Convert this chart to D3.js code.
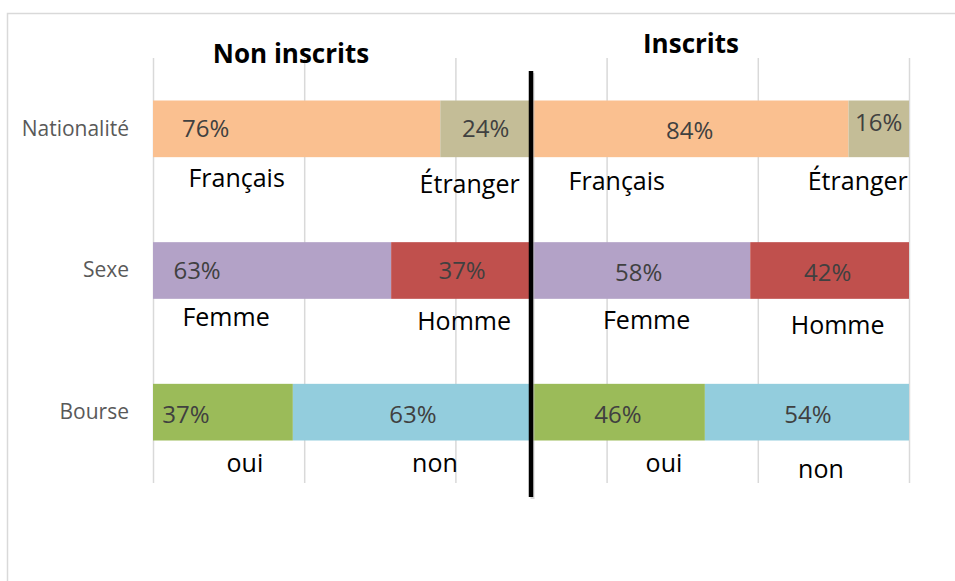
<!DOCTYPE html>
<html>
<head>
<meta charset="utf-8">
<script src="https://cdn.jsdelivr.net/npm/d3@7"></script>
<style>
  body { margin: 0; background: #fff; }
  svg { display: block; font-family: "Open Sans", sans-serif; }
  .grid line { stroke: #d9d9d9; stroke-width: 1.5; }
  .grid .domain { display: none; }
</style>
</head>
<body>
<svg id="chart" width="955" height="581"></svg>
<script>
// data
const categories = ['Nationalité', 'Sexe', 'Bourse'];
const groups = ['Non inscrits', 'Inscrits'];
const firstLabels = ['Français', 'Femme', 'oui'];
const secondLabels = ['Étranger', 'Homme', 'non'];
const nonInscritsFirst = [76, 63, 37];
const nonInscritsSecond = [24, 37, 63];
const inscritsFirst = [84, 58, 46];
const inscritsSecond = [16, 42, 54];
const gridTicks = [0, 40, 80, 120, 160, 200];

// styles
const firstColors = ['#fac090', '#b3a2c7', '#9bbb59'];
const secondColors = ['#c4bd97', '#c0504d', '#93cddd'];

// manual label placement (Excel labels were dragged around), same order as segments
const valueNudge = [[-91, 8], [0, 8], [0, 10], [0, 2],
                    [-75, 8], [1, 8], [-2, 10], [-2, 10],
                    [-37, 10.5], [1, 10.5], [0, 10.5], [1, 10.5]];
const nameNudge = [[-60, 30], [-16, 36], [-73, 33], [-21, 33],
                   [-46, 27], [3, 31], [6, 30], [8, 35],
                   [22, 31], [23, 31], [46, 31], [14, 37]];

let svg = d3.select('#chart');

// outer frame
svg.append('rect')
  .attr('x', 7.5).attr('y', 13.5)
  .attr('width', 1000).attr('height', 1000)
  .attr('fill', 'none')
  .attr('stroke', '#d9d9d9')
  .attr('stroke-width', 1.5);

let x = d3.scaleLinear().domain([0, 200]).range([153, 909]);
let y = d3.scaleBand().domain(categories).range([58, 483]).paddingInner(0.6).paddingOuter(0.3);

// gridlines
svg.append('g')
  .attr('class', 'grid')
  .attr('transform', 'translate(0,483)')
  .call(d3.axisBottom(x).tickValues(gridTicks).tickSize(-425).tickFormat(''));

// category axis
let yAxis = svg.append('g')
  .attr('transform', 'translate(153,0)')
  .call(d3.axisLeft(y).tickSize(0).tickPadding(24));
yAxis.select('.domain').remove();
yAxis.selectAll('text')
  .attr('font-family', '"Open Sans", sans-serif')
  .attr('font-size', 21)
  .attr('fill', '#595959');

// build segments
let segments = [];
categories.forEach(function(cat, i) {
  [[nonInscritsFirst, nonInscritsSecond], [inscritsFirst, inscritsSecond]].forEach(function(pair, g) {
    let start = g * 100;
    segments.push({cat: cat, x0: start, x1: start + pair[0][i], value: pair[0][i], name: firstLabels[i], color: firstColors[i]});
    segments.push({cat: cat, x0: start + pair[0][i], x1: start + pair[0][i] + pair[1][i], value: pair[1][i], name: secondLabels[i], color: secondColors[i]});
  });
});

svg.selectAll('.bar')
  .data(segments)
  .enter().append('rect')
  .attr('class', 'bar')
  .attr('x', function(d) { return x(d.x0); })
  .attr('y', function(d) { return y(d.cat); })
  .attr('width', function(d) { return x(d.x1) - x(d.x0); })
  .attr('height', y.bandwidth())
  .attr('fill', function(d) { return d.color; });

// value labels
svg.selectAll('.value')
  .data(segments)
  .enter().append('text')
  .attr('class', 'value')
  .attr('x', function(d, i) { return (x(d.x0) + x(d.x1)) / 2 + valueNudge[i][0]; })
  .attr('y', function(d, i) { return y(d.cat) + y.bandwidth() / 2 + valueNudge[i][1]; })
  .attr('text-anchor', 'middle')
  .attr('font-size', 24)
  .attr('fill', '#404040')
  .text(function(d) { return d.value + '%'; });

// names under the bars
svg.selectAll('.name')
  .data(segments)
  .enter().append('text')
  .attr('class', 'name')
  .attr('x', function(d, i) { return (x(d.x0) + x(d.x1)) / 2 + nameNudge[i][0]; })
  .attr('y', function(d, i) { return y(d.cat) + y.bandwidth() + nameNudge[i][1]; })
  .attr('text-anchor', 'middle')
  .attr('font-size', 25)
  .attr('fill', '#000')
  .text(function(d) { return d.name; });

// divider between the two groups
svg.append('line')
  .attr('x1', x(100) + 1.5).attr('x2', x(100) + 1.5)
  .attr('y1', 73).attr('y2', 499)
  .attr('stroke', '#bfbfbf').attr('stroke-width', 4).attr('opacity', 0.6);
svg.append('line')
  .attr('x1', x(100)).attr('x2', x(100))
  .attr('y1', 71).attr('y2', 497)
  .attr('stroke', '#000').attr('stroke-width', 4.5);

// group titles
svg.selectAll('.title')
  .data(groups)
  .enter().append('text')
  .attr('class', 'title')
  .attr('x', function(d, i) { return i === 0 ? x(50) - 51 : x(150) - 29; })
  .attr('y', function(d, i) { return i === 0 ? 63 : 53; })
  .attr('text-anchor', 'middle')
  .attr('font-size', 26)
  .attr('font-weight', 'bold')
  .attr('fill', '#000')
  .text(function(d) { return d; });
</script>
</body>
</html>
